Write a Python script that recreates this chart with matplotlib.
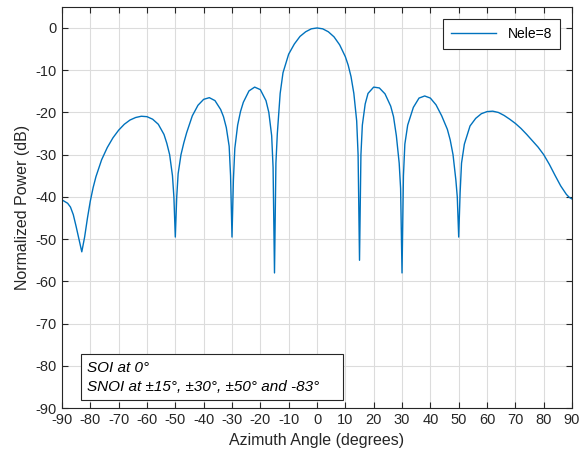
import matplotlib.pyplot as plt
import numpy as np

# beam pattern (azimuth in degrees, power in dB)
az = [-90, -88, -87, -86, -85, -84, -83, -82, -81, -80, -79, -78, -76, -74, -72,
      -70, -68, -66, -64, -62, -60, -58, -56, -54, -53, -52, -51, -50.5, -50,
      -49.5, -49, -48, -47, -46, -44, -42, -40, -38, -36, -34, -33, -32, -31,
      -30.5, -30, -29.5, -29, -28, -27, -26, -24, -22, -20, -18, -17, -16,
      -15.5, -15, -14.5, -14, -13, -12, -10, -8, -6, -4, -2, 0, 2, 4, 6, 8,
      10, 11, 12, 13, 14, 14.5, 15, 15.5, 16, 17, 18, 20, 22, 24, 26, 27, 28,
      29, 29.5, 30, 30.5, 31, 32, 34, 36, 38, 40, 42, 44, 46, 47, 48, 49,
      49.5, 50, 50.5, 51, 52, 54, 56, 58, 60, 62, 64, 66, 68, 70, 72, 74, 76,
      78, 80, 82, 84, 86, 88, 89, 90]
power_db = [-40.7, -41.5, -42.4, -44.2, -47.0, -50.0, -53.0, -49.5, -45.0, -41.0,
            -37.8, -35.2, -31.2, -28.3, -26.0, -24.2, -22.8, -21.8, -21.2, -20.9,
            -21.0, -21.6, -22.8, -25.2, -27.3, -30.0, -35.0, -40.0, -49.5, -40.0,
            -34.5, -30.0, -27.2, -24.8, -20.8, -18.3, -16.9, -16.5, -17.2, -19.3,
            -21.0, -23.6, -28.0, -35.0, -49.5, -36.0, -28.5, -23.0, -19.8, -17.6,
            -14.9, -14.0, -14.6, -17.2, -20.0, -25.5, -33.0, -58.0, -32.0, -25.0,
            -15.5, -10.6, -6.2, -3.8, -2.0, -0.9, -0.2, 0.0, -0.2, -0.9, -2.1,
            -4.0, -6.8, -8.8, -11.5, -15.5, -22.0, -30.0, -55.0, -30.0, -23.0,
            -18.0, -15.5, -14.0, -14.2, -15.6, -18.5, -21.0, -25.5, -32.0, -38.0,
            -58.0, -35.0, -27.5, -23.0, -18.8, -16.6, -16.1, -16.6, -18.2, -20.8,
            -24.0, -26.5, -30.0, -36.0, -40.0, -49.5, -39.0, -32.0, -27.5, -23.2,
            -21.4, -20.3, -19.8, -19.7, -20.0, -20.7, -21.6, -22.6, -23.8, -25.2,
            -26.7, -28.2, -30.0, -32.3, -34.9, -37.4, -39.4, -40.1, -40.5]

xticks = np.arange(-90, 91, 10)
yticks = np.arange(-90, 1, 10)

plt.rcParams['font.family'] = ['Liberation Sans', 'DejaVu Sans']
plt.rcParams['axes.unicode_minus'] = False

fig = plt.figure(figsize=(5.79, 4.57), dpi=100)
ax = fig.add_axes([0.107, 0.107, 0.881, 0.878])

ax.plot(az, power_db, color='#0072BD', lw=1.0, label='Nele=8')

ax.set_xlim(-90, 90)
ax.set_ylim(-90, 5)
ax.set_xticks(xticks)
ax.set_yticks(yticks)
ax.grid(True, color='#dcdcdc', lw=0.8)
ax.set_axisbelow(True)
ax.tick_params(direction='in', top=True, right=True, labelsize=10.5,
               colors='#262626', length=4)
for s in ax.spines.values():
    s.set_color('#262626')
    s.set_linewidth(0.8)

ax.set_xlabel('Azimuth Angle (degrees)', fontsize=11.5, color='#262626', labelpad=4)
ax.set_ylabel('Normalized Power (dB)', fontsize=11.5, color='#262626', labelpad=4)

leg = ax.legend(loc='upper right', fancybox=False, framealpha=1,
                edgecolor='#262626', fontsize=10, handlelength=3.3,
                borderaxespad=0.9, borderpad=0.55)
leg.get_frame().set_linewidth(0.8)

ax.text(0.05, 0.035, 'SOI at 0°\nSNOI at ±15°, ±30°, ±50° and -83°    ',
        transform=ax.transAxes, fontsize=11, style='italic', va='bottom',
        linespacing=1.5,
        bbox=dict(boxstyle='square,pad=0.4', fc='white', ec='#262626', lw=0.8))

fig.savefig('out.png', dpi=100)
